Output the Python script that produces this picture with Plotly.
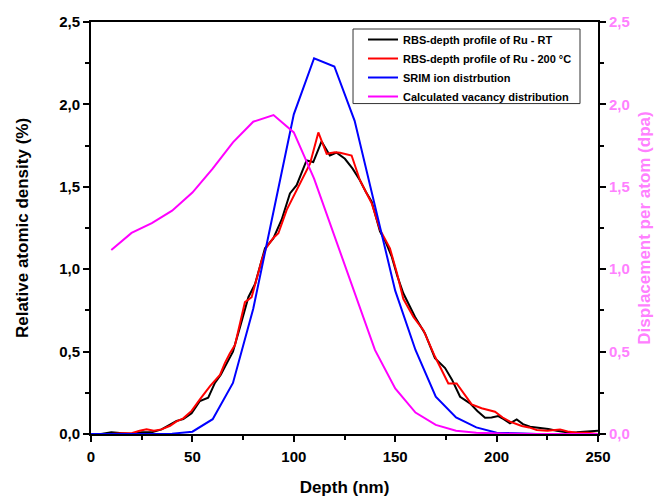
import plotly.graph_objects as go

# ---- data ----
depth_rt = [0, 5, 10, 15, 20, 25, 30, 34.8, 39, 42.2, 45.5, 49.6, 53.7, 57.8, 61.1, 64, 67, 70,
            73.5, 77.6, 80.9, 85.8, 89.9, 94, 98.1, 101.4, 106.3, 109.6, 113.7, 117.8, 121.1,
            125.2, 129, 132.6, 135.5, 138.4, 142.5, 145.5, 148.3, 151, 154, 157, 159.8, 164.7,
            169.6, 174.6, 178, 182, 186.9, 190.5, 194.3, 197.5, 200.8, 203.5, 206.6, 209.9, 213,
            216.5, 221.4, 225.5, 229.6, 233, 236.2, 239.5, 242.8, 246.5, 250]
rbs_rt = [0, 0.0, 0.01, 0.005, 0.0, 0.01, 0.01, 0.028, 0.055, 0.08, 0.09, 0.125, 0.20, 0.22, 0.31,
          0.36, 0.43, 0.50, 0.65, 0.83, 0.91, 1.127, 1.187, 1.30, 1.46, 1.51, 1.66, 1.65, 1.775,
          1.69, 1.707, 1.67, 1.61, 1.54, 1.47, 1.41, 1.23, 1.16, 1.076, 0.96, 0.854, 0.78, 0.71,
          0.61, 0.46, 0.40, 0.33, 0.226, 0.186, 0.14, 0.099, 0.10, 0.109, 0.09, 0.065, 0.089,
          0.06, 0.044, 0.038, 0.03, 0.02, 0.015, 0.008, 0.01, 0.014, 0.015, 0.02]

depth_200 = [0, 5, 10, 15, 20, 24, 27.4, 31, 34.8, 39, 42, 45.5, 49.6, 53.7, 58.7, 63.6, 66, 68.5,
             71, 75.9, 79.2, 84.2, 86.3, 89.9, 92.4, 96.5, 101.4, 104.7, 108, 112.1, 116.2, 120.3,
             122.8, 128.5, 132.6, 135.5, 138.4, 142.5, 147.4, 151, 154, 159, 163.9, 169.6, 173,
             176.2, 180.3, 184, 187.7, 192.6, 196, 199.2, 203, 206.6, 212.4, 216, 219.8, 225,
             231.3, 235, 239.5, 245, 250]
rbs_200 = [0, 0, 0.0, 0.005, 0.005, 0.02, 0.028, 0.02, 0.028, 0.05, 0.075, 0.095, 0.14, 0.21, 0.29,
           0.358, 0.43, 0.49, 0.54, 0.80, 0.83, 1.056, 1.127, 1.19, 1.218, 1.36, 1.48, 1.56, 1.64,
           1.83, 1.70, 1.71, 1.707, 1.69, 1.54, 1.47, 1.40, 1.24, 1.127, 0.97, 0.82, 0.71, 0.63,
           0.47, 0.39, 0.307, 0.307, 0.24, 0.18, 0.156, 0.145, 0.135, 0.10, 0.075, 0.049, 0.04,
           0.024, 0.02, 0.028, 0.015, 0.008, 0.008, 0.0]

depth_srim = [0, 10, 20, 30, 40, 50, 60, 70, 80, 90, 100, 110, 120, 130, 140, 150, 160, 170, 180,
              190, 200, 210, 220, 230, 240, 250]
srim = [0, 0, 0, 0, 0.002, 0.014, 0.09, 0.31, 0.76, 1.35, 1.94, 2.28, 2.23, 1.90, 1.38, 0.87, 0.51,
        0.226, 0.10, 0.04, 0.008, 0.002, 0, 0, 0, 0]

depth_vac = [10, 20, 30, 40, 50, 60, 70, 80, 90, 100, 110, 120, 130, 140, 150, 160, 170, 180, 190,
             200, 210, 220, 230, 240, 250]
vacancy = [1.117, 1.22, 1.28, 1.355, 1.465, 1.61, 1.77, 1.895, 1.935, 1.83, 1.55, 1.20, 0.85, 0.51,
           0.277, 0.13, 0.055, 0.02, 0.007, 0.003, 0.001, 0, 0, 0, 0]

x_ticks = [0, 50, 100, 150, 200, 250]
x_minor = [25, 75, 125, 175, 225]
y_ticks = [0, 0.5, 1.0, 1.5, 2.0, 2.5]
y_minor = [0.25, 0.75, 1.25, 1.75, 2.25]

names = ["RBS-depth profile of Ru - RT", "RBS-depth profile of Ru - 200 \u00b0C",
         "SRIM ion distrbution", "Calculated vacancy distribution"]
colors = ["#000000", "#ff0000", "#0000ff", "#ff00ff"]
pink = "#ff80ff"

fig = go.Figure()
fig.add_trace(go.Scatter(x=depth_rt, y=rbs_rt, mode="lines", name=names[0],
                         line=dict(color=colors[0], width=2), cliponaxis=False))
fig.add_trace(go.Scatter(x=depth_200, y=rbs_200, mode="lines", name=names[1],
                         line=dict(color=colors[1], width=2), cliponaxis=False))
fig.add_trace(go.Scatter(x=depth_srim, y=srim, mode="lines", name=names[2],
                         line=dict(color=colors[2], width=2), cliponaxis=False))
fig.add_trace(go.Scatter(x=depth_vac, y=vacancy, mode="lines", name=names[3], yaxis="y2",
                         line=dict(color=colors[3], width=2), cliponaxis=False))

font_family = "Liberation Sans, Arial, sans-serif"
tickfont = dict(family=font_family, size=15, color="black", weight="bold")
titlefont = dict(family=font_family, size=17, color="black", weight="bold")

fig.update_layout(
    width=662, height=497,
    margin=dict(l=83, r=72, t=14, b=71, autoexpand=False),
    paper_bgcolor="white", plot_bgcolor="white",
    separators=", ",
    font=dict(family=font_family, color="black"),
    showlegend=True,
    legend=dict(x=0.5365, y=0.9927, xanchor="left", yanchor="top",
                bgcolor="rgba(0,0,0,0)", borderwidth=0,
                font=dict(family=font_family, size=11, color="black", weight="bold"),
                tracegroupgap=0, itemwidth=30),
    shapes=[dict(type="rect", xref="paper", yref="paper", x0=0.5168, x1=0.9645,
                 y0=0.802, y1=0.983, line=dict(color="#333333", width=1),
                 fillcolor="rgba(0,0,0,0)", layer="above")],
    xaxis=dict(range=[0, 250], tickvals=x_ticks, automargin=False,
               ticks="outside", ticklen=6, tickwidth=1.5, tickcolor="black",
               ticklabelstandoff=2,
               minor=dict(tickvals=x_minor, ticks="outside", ticklen=4,
                          tickwidth=1.5, tickcolor="black"),
               showline=True, linecolor="black", linewidth=2, mirror=True,
               showgrid=False, zeroline=False, tickfont=tickfont,
               title=dict(text="Depth (nm)", font=titlefont, standoff=17)),
    yaxis=dict(range=[0, 2.5], tickvals=y_ticks, tickformat=".1f", automargin=False,
               ticks="outside", ticklen=6, tickwidth=1.5, tickcolor="black",
               minor=dict(tickvals=y_minor, ticks="outside", ticklen=4,
                          tickwidth=1.5, tickcolor="black"),
               showline=True, linecolor="black", linewidth=2,
               showgrid=False, zeroline=False, tickfont=tickfont,
               title=dict(text="Relative atomic density (%)", font=titlefont, standoff=26)),
    yaxis2=dict(range=[0, 2.5], overlaying="y", side="right", anchor="x", automargin=False,
                tickvals=y_ticks, tickformat=".1f",
                ticks="outside", ticklen=6, tickwidth=1.5, tickcolor="black",
                minor=dict(tickvals=y_minor, ticks="outside", ticklen=4,
                           tickwidth=1.5, tickcolor="black"),
                showline=True, linecolor="black", linewidth=2,
                showgrid=False, zeroline=False,
                tickfont=dict(family=font_family, size=15, color=pink, weight="bold"),
                title=dict(text="Displacement per atom (dpa)",
                           font=dict(family=font_family, size=17, color=pink, weight="bold"),
                           standoff=9)),
)

fig.write_html("out.html")
